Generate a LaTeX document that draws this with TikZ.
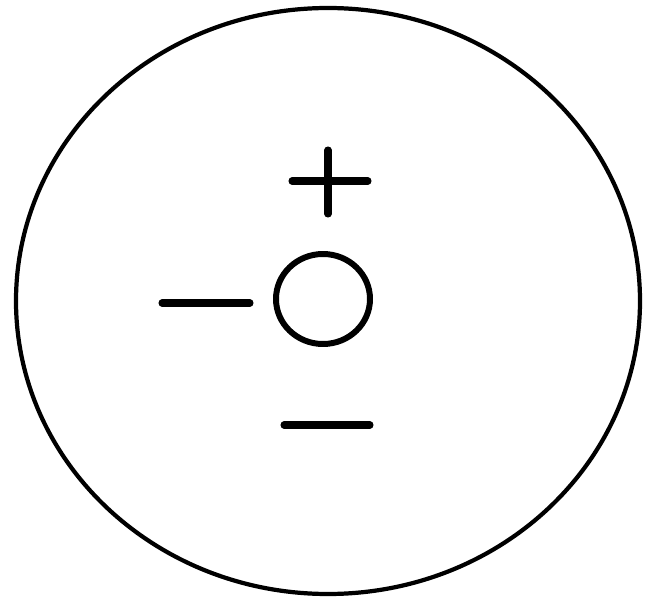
\documentclass[tikz,border=0pt]{standalone}
\begin{document}
\begin{tikzpicture}[x=0.02cm, y=-0.02cm, line cap=round,
    rim/.style={line width=2.4pt},
    stroke/.style={line width=4pt}]
    \useasboundingbox (0,0) rectangle (647,608);
    % outer circle
    \draw[rim] (328,301) ellipse [x radius=312, y radius=293];
    % plus
    \draw[stroke] (292,181) -- (368,181);
    \draw[stroke] (328,150) -- (328,214);
    % small circle
    \draw[line width=3.4pt] (323,299) ellipse [x radius=47, y radius=45];
    % left minus
    \draw[stroke] (162,303) -- (250,303);
    % bottom minus
    \draw[stroke] (284,425) -- (370,425);
\end{tikzpicture}
\end{document}
